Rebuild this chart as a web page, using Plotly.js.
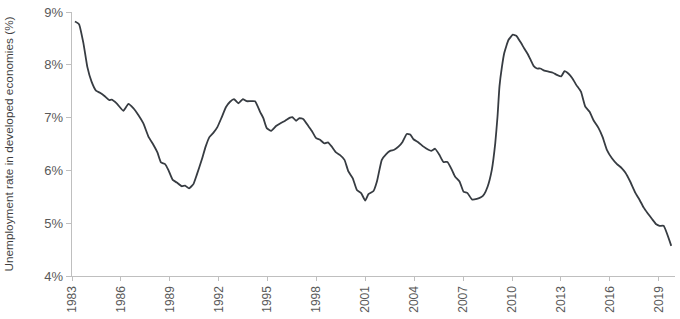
<!DOCTYPE html>
<html>
<head>
<meta charset="utf-8">
<script src="https://cdn.plot.ly/plotly-3.0.1.min.js"></script>
<style>html,body{margin:0;padding:0;background:#fff;}#chart{width:680px;height:319px;}</style>
</head>
<body>
<div id="chart"></div>
<script>
// Decimal year of each reading
var years = [1983.18,1983.43,1983.7,1983.94,1984.2,1984.47,1984.72,1985.03,1985.29,1985.43,1985.74,1986.15,1986.46,1986.76,1987.07,1987.38,1987.69,1988.0,1988.24,1988.46,1988.71,1988.91,1989.18,1989.43,1989.73,1989.94,1990.18,1990.45,1990.65,1990.96,1991.2,1991.43,1991.67,1991.92,1992.19,1992.45,1992.7,1992.94,1993.21,1993.48,1993.72,1994.23,1994.54,1994.74,1994.95,1995.22,1995.52,1995.77,1996.08,1996.38,1996.52,1996.75,1996.95,1997.2,1997.5,1997.71,1997.98,1998.22,1998.49,1998.7,1998.94,1999.2,1999.45,1999.72,1999.96,2000.23,2000.48,2000.74,2000.99,2001.19,2001.5,2001.71,2002.01,2002.28,2002.52,2002.77,2003.03,2003.28,2003.54,2003.75,2003.95,2004.26,2004.57,2004.87,2005.04,2005.28,2005.55,2005.79,2006.04,2006.31,2006.51,2006.78,2007.02,2007.27,2007.54,2007.84,2008.09,2008.29,2008.5,2008.76,2008.97,2009.11,2009.23,2009.38,2009.52,2009.78,2010.05,2010.26,2010.5,2010.75,2010.97,2011.16,2011.32,2011.53,2011.73,2011.98,2012.24,2012.51,2012.75,2013.02,2013.22,2013.47,2013.71,2013.94,2014.23,2014.49,2014.76,2015.0,2015.31,2015.56,2015.82,2016.13,2016.44,2016.74,2016.95,2017.25,2017.56,2017.83,2018.07,2018.32,2018.59,2018.85,2019.05,2019.3,2019.77];
// Unemployment rate in developed economies (%)
var rates = [8.82,8.77,8.41,7.96,7.68,7.51,7.47,7.40,7.33,7.34,7.27,7.13,7.26,7.18,7.05,6.89,6.64,6.48,6.34,6.15,6.12,6.01,5.82,5.77,5.70,5.71,5.66,5.74,5.91,6.20,6.45,6.63,6.71,6.82,7.01,7.20,7.30,7.35,7.27,7.35,7.31,7.31,7.11,6.99,6.80,6.75,6.84,6.89,6.94,7.00,7.01,6.94,6.99,6.97,6.84,6.75,6.61,6.58,6.51,6.53,6.45,6.34,6.29,6.20,5.98,5.85,5.63,5.57,5.43,5.55,5.61,5.79,6.20,6.31,6.37,6.39,6.45,6.54,6.69,6.68,6.59,6.53,6.45,6.39,6.37,6.41,6.29,6.16,6.16,6.01,5.88,5.79,5.60,5.57,5.45,5.46,5.49,5.55,5.69,6.01,6.51,7.02,7.59,7.96,8.22,8.47,8.57,8.55,8.44,8.31,8.20,8.08,7.98,7.93,7.93,7.89,7.87,7.85,7.81,7.78,7.88,7.83,7.74,7.62,7.49,7.21,7.11,6.95,6.80,6.63,6.39,6.23,6.12,6.04,5.96,5.79,5.58,5.44,5.30,5.19,5.08,4.98,4.95,4.95,4.57];
var xTicks = [1983,1986,1989,1992,1995,1998,2001,2004,2007,2010,2013,2016,2019];
var yTicks = [4,5,6,7,8,9];

var trace = {
  x: years, y: rates, type: 'scatter', mode: 'lines',
  line: {color: '#373c42', width: 1.8, shape: 'spline', smoothing: 0.4},
  hoverinfo: 'skip'
};
var layout = {
  width: 680, height: 319,
  margin: {l: 72, r: 5, t: 12, b: 43},
  paper_bgcolor: '#fff', plot_bgcolor: '#fff',
  font: {family: 'Liberation Sans, Arial, sans-serif', color: '#595959'},
  showlegend: false,
  xaxis: {
    range: [1983, 2020], tickvals: xTicks, ticktext: xTicks.map(String),
    tickangle: -90, tickfont: {size: 12, color: '#595959'},
    showgrid: false, zeroline: false, showline: true, linecolor: '#bfbfbf', linewidth: 1.3,
    ticks: 'outside', ticklen: 4, tickcolor: '#bfbfbf', tickwidth: 1
  },
  yaxis: {
    range: [4, 9], tickvals: yTicks, ticktext: yTicks.map(function(v){return v + '%';}),
    tickfont: {size: 13, color: '#595959'},
    showgrid: false, zeroline: false, showline: true, linecolor: '#bfbfbf', linewidth: 1.3,
    ticks: 'outside', ticklen: 5, tickcolor: '#bfbfbf', tickwidth: 1,
    title: {text: 'Unemployment rate in developed economies (%)', font: {size: 11.8, color: '#404040'}, standoff: 28}
  }
};
Plotly.newPlot('chart', [trace], layout, {staticPlot: true, displayModeBar: false});
</script>
</body>
</html>
